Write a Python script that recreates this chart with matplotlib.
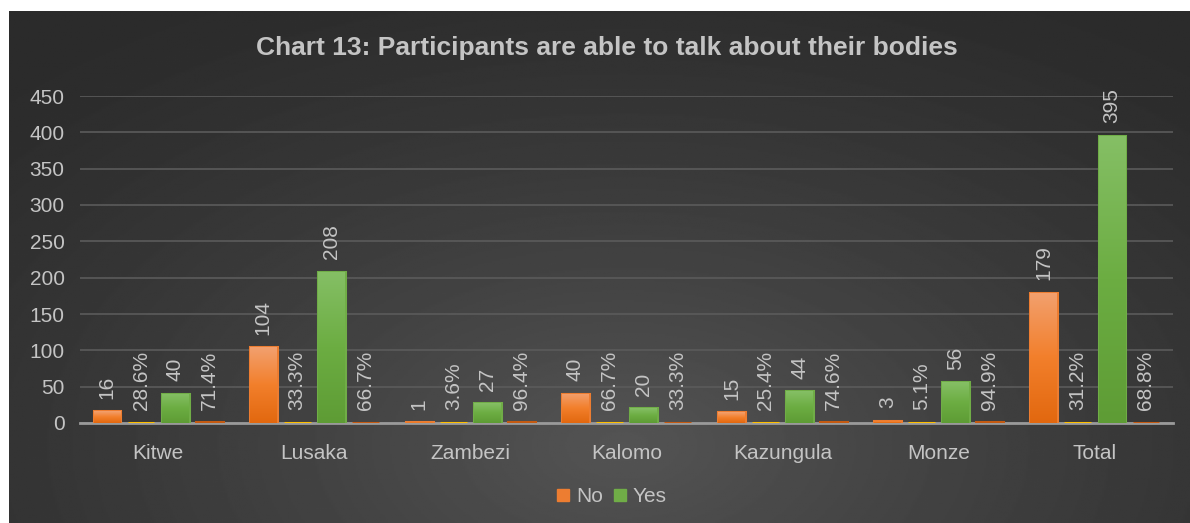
import numpy as np
import matplotlib.pyplot as plt
from matplotlib.colors import LinearSegmentedColormap
from matplotlib.lines import Line2D

plt.rcParams['font.family'] = ['Liberation Sans', 'DejaVu Sans']

sites = ['Kitwe', 'Lusaka', 'Zambezi', 'Kalomo', 'Kazungula', 'Monze', 'Total']
no_count = [16, 104, 1, 40, 15, 3, 179]
no_pct = [28.6, 33.3, 3.6, 66.7, 25.4, 5.1, 31.2]
yes_count = [40, 208, 27, 20, 44, 56, 395]
yes_pct = [71.4, 66.7, 96.4, 33.3, 74.6, 94.9, 68.8]
yticks = [0, 50, 100, 150, 200, 250, 300, 350, 400, 450]

txt = '#c4c4c4'
fig = plt.figure(figsize=(11.9, 5.23), dpi=100, facecolor='white')

# dark chart area with a soft radial glow
bg = fig.add_axes([9 / 1190, 0, 1 - 9 / 1190, 1 - 11 / 523])
yy, xx = np.mgrid[0:1:300j, 0:1:600j]
r = np.sqrt(((xx - 0.52) / 0.75) ** 2 + ((yy - 0.85) / 1.0) ** 2)
shade = np.clip(1 - r, 0, 1) ** 1.3
bg.imshow(0.17 + 0.16 * shade, cmap='gray', vmin=0, vmax=1, aspect='auto',
          extent=[0, 1, 0, 1], origin='upper')
bg.set_axis_off()

ax = fig.add_axes([80 / 1190, 100 / 523, 1093 / 1190, 327 / 523])
ax.patch.set_alpha(0)

x = np.arange(len(sites))
step, w = 0.218, 0.172
series = [
    (no_count, '#ed7d31', ['#f3a06e', '#f27f2b', '#e2680f'], False),
    (no_pct, '#ffc000', None, True),
    (yes_count, '#70ad47', ['#85bf65', '#6cad42', '#5e9c35'], False),
    (yes_pct, '#c55a11', None, True),
]

for i, (vals, col, grad, is_pct) in enumerate(series):
    pos = x + (i - 1.5) * step
    heights = [v / 100 if is_pct else v for v in vals]
    # edge line keeps the tiny bars visible above the axis
    bars = ax.bar(pos, heights, w, color=col, edgecolor=col, linewidth=2.2, zorder=3)
    if grad:
        cm = LinearSegmentedColormap.from_list('g%d' % i, grad[::-1])
        for b in bars:
            im = ax.imshow(np.linspace(0, 1, 100).reshape(-1, 1), cmap=cm, aspect='auto',
                           origin='lower', extent=[b.get_x(), b.get_x() + w, 0, b.get_height()],
                           zorder=4)
            im.set_clip_path(b)
    for p, h, v in zip(pos, heights, vals):
        label = f'{v:.1f}%' if is_pct else f'{v}'
        ax.annotate(label, (p, h), xytext=(0, 9), textcoords='offset points',
                    rotation=90, ha='center', va='bottom', color=txt, fontsize=15, zorder=5)

ax.set_xlim(-0.5, len(sites) - 0.5)
ax.set_ylim(0, 450)
ax.set_yticks(yticks)
ax.set_xticks(x)
ax.set_xticklabels(sites)
ax.tick_params(length=0, colors=txt, labelsize=15)
ax.tick_params(axis='y', pad=11)
ax.tick_params(axis='x', pad=15)
ax.grid(axis='y', color='#5b5b5b', linewidth=1.2, zorder=0)
for s in ['top', 'right', 'left']:
    ax.spines[s].set_visible(False)
ax.spines['bottom'].set_color('#9a9a9a')
ax.spines['bottom'].set_linewidth(2)
ax.spines['bottom'].set_zorder(2.5)

fig.text(0.51, 1 - 48 / 523, 'Chart 13: Participants are able to talk about their bodies',
         ha='center', va='center', color=txt, fontsize=19, fontweight='bold')

handles = [Line2D([], [], marker='s', linestyle='', markersize=9, color='#ed7d31'),
           Line2D([], [], marker='s', linestyle='', markersize=9, color='#70ad47')]
fig.legend(handles, ['No', 'Yes'], loc='center', bbox_to_anchor=(0.513, 1 - 497 / 523),
           ncol=2, frameon=False, fontsize=15, labelcolor=txt, handletextpad=0.15,
           columnspacing=0.4, handlelength=0.9)

fig.savefig('out.png', dpi=100, facecolor='white')
